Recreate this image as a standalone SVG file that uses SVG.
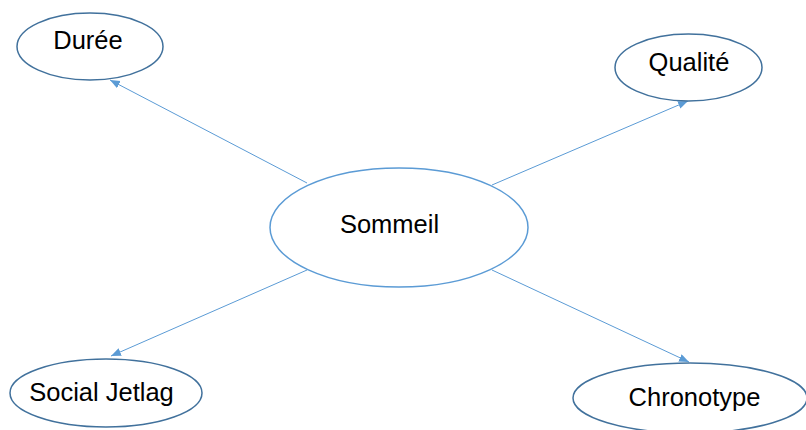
<svg xmlns="http://www.w3.org/2000/svg" width="806" height="430" viewBox="0 0 806 430">
<style>
.node{fill:#fff;stroke:#41719C;stroke-width:1.5}
.center{fill:#fff;stroke:#5B9BD5;stroke-width:1.5}
.lbl{font-family:"Liberation Sans",Arial,sans-serif;font-size:25.5px;fill:#000;text-anchor:middle}
.edge{stroke:#5B9BD5;stroke-width:1;fill:none;marker-end:url(#arr)}
</style>
<defs>
<marker id="arr" markerUnits="userSpaceOnUse" markerWidth="11" markerHeight="9" refX="10" refY="4" orient="auto">
<path d="M0,0 L10,4 L0,8 Z" fill="#5B9BD5"/>
</marker>
</defs>
<rect width="806" height="430" fill="#fff"/>
<g id="connectors">
<line class="edge" x1="307" y1="183" x2="110" y2="80"/>
<line class="edge" x1="492" y1="185" x2="688" y2="101"/>
<line class="edge" x1="307" y1="270" x2="111" y2="356"/>
<line class="edge" x1="492" y1="270" x2="689" y2="362"/>
</g>
<g id="duree">
<ellipse class="node" cx="90" cy="46.5" rx="73" ry="33.5"/>
<text class="lbl" x="88" y="49">Durée</text>
</g>
<g id="qualite">
<ellipse class="node" cx="688.5" cy="67.5" rx="73.5" ry="33.5"/>
<text class="lbl" x="689" y="71">Qualité</text>
</g>
<g id="sommeil">
<ellipse class="center" cx="399" cy="227.5" rx="129" ry="59.5"/>
<text class="lbl" x="389.5" y="233">Sommeil</text>
</g>
<g id="social-jetlag">
<ellipse class="node" cx="106" cy="393" rx="96" ry="34"/>
<text class="lbl" x="101.5" y="401">Social Jetlag</text>
</g>
<g id="chronotype">
<ellipse class="node" cx="690" cy="398" rx="117" ry="35"/>
<text class="lbl" x="694.5" y="406">Chronotype</text>
</g>
</svg>
